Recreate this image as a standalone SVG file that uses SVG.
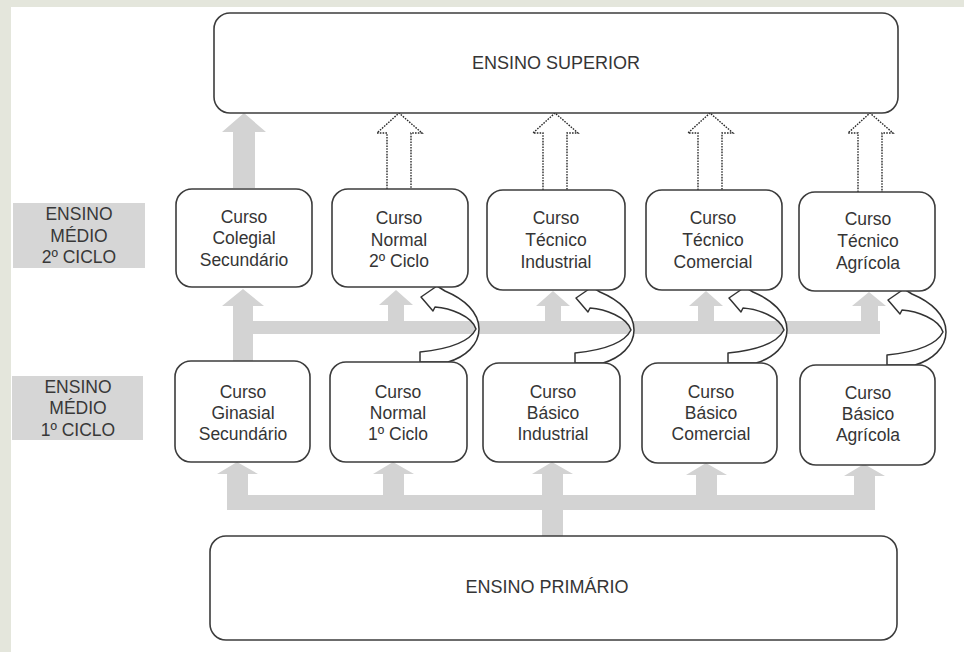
<svg xmlns="http://www.w3.org/2000/svg" xmlns:xlink="http://www.w3.org/1999/xlink" width="964" height="652" viewBox="0 0 964 652">
<style>
.box{fill:#fff;stroke:#3c3c3c;stroke-width:1.6}
.t{font-family:"Liberation Sans",Arial,sans-serif;font-size:17.5px;fill:#353535;text-anchor:middle}
.big{font-size:18px}
.lbl{fill:#d6d6d6}
.lt{font-size:17.5px;fill:#383838}
.g{fill:#d3d3d3}
.dot{fill:#fff;stroke:#2a2a2a;stroke-width:1.4;stroke-dasharray:1.6 1.2}
.curve{fill:#fff;stroke:#333;stroke-width:1.5;stroke-linejoin:round}
</style>
<defs>
<path id="curl" class="curve" d="M 0,0 L 0,-10 C 20,-12 48,-17 56,-33 C 52,-46 30,-54 15,-55 L 13,-51 L 1,-65 L 17,-76 L 25,-71 C 44,-63 59,-50 59,-33 C 59,-17 45,-5 28,0 Z"/>
</defs>
<rect x="0" y="0" width="964" height="652" fill="#e4e6dc"/>
<rect x="11" y="7" width="953" height="645" fill="#ffffff"/>

<g id="connectors">
  <!-- Colegial to Superior -->
  <polygon class="g" points="233,188 233,132 222,132 244,113 266,132 255,132 255,188"/>
  <!-- dotted hollow arrows -->
  <path class="dot" d="M 387,189 L 387,133 L 377,133 L 399,113 L 422,133 L 411,133 L 411,189"/>
  <path class="dot" d="M 543,190 L 543,133 L 533,133 L 555,113 L 578,133 L 567,133 L 567,190"/>
  <path class="dot" d="M 698,190 L 698,133 L 688,133 L 710,113 L 733,133 L 722,133 L 722,190"/>
  <path class="dot" d="M 858,192 L 858,133 L 848,133 L 870,113 L 893,133 L 882,133 L 882,192"/>
  <!-- middle gray structure -->
  <polygon class="g" points="233,361 233,306 222,306 243,289 264,306 253,306 253,361"/>
  <rect class="g" x="233" y="321" width="647" height="13"/>
  <polygon class="g" points="388,321 388,305 379,305 396,290 413,305 404,305 404,321"/>
  <polygon class="g" points="545,321 545,306 536,306 553,291 570,306 561,306 561,321"/>
  <polygon class="g" points="698,321 698,306 689,306 706,291 723,306 714,306 714,321"/>
  <polygon class="g" points="861,321 861,306 852,306 869,292 886,306 878,306 878,321"/>
  <!-- bottom gray structure -->
  <rect class="g" x="227" y="495" width="648" height="15"/>
  <polygon class="g" points="227,495 227,474 217,474 237,462 258,474 248,474 248,495"/>
  <polygon class="g" points="383,495 383,474 373,474 393,462 414,474 404,474 404,495"/>
  <polygon class="g" points="542,537 542,474 532,474 552,462 573,474 563,474 563,537"/>
  <polygon class="g" points="696,495 696,475 686,475 706,463 727,475 717,475 717,495"/>
  <polygon class="g" points="854,495 854,476 844,476 864,464 885,476 875,476 875,495"/>
  <!-- curved arrows -->
  <use xlink:href="#curl" transform="translate(420,362)"/>
  <use xlink:href="#curl" transform="translate(575,363)"/>
  <use xlink:href="#curl" transform="translate(728,363)"/>
  <use xlink:href="#curl" transform="translate(887,365)"/>
</g>

<g id="superior">
  <rect class="box" x="214" y="13" width="684" height="100" rx="16"/>
  <text class="t big" x="556" y="69">ENSINO SUPERIOR</text>
</g>

<g id="label-2ciclo">
  <rect class="lbl" x="13" y="203" width="132" height="65"/>
  <text class="t lt" x="79" y="220">ENSINO</text>
  <text class="t lt" x="79" y="242">MÉDIO</text>
  <text class="t lt" x="79" y="263">2º CICLO</text>
</g>
<g id="label-1ciclo">
  <rect class="lbl" x="12" y="376" width="131" height="64"/>
  <text class="t lt" x="78" y="393">ENSINO</text>
  <text class="t lt" x="78" y="414">MÉDIO</text>
  <text class="t lt" x="78" y="436">1º CICLO</text>
</g>

<g id="colegial">
  <rect class="box" x="176" y="189" width="136" height="98" rx="16"/>
  <text class="t" x="244" y="223">Curso</text>
  <text class="t" x="244" y="244">Colegial</text>
  <text class="t" x="244" y="266">Secundário</text>
</g>
<g id="normal2">
  <rect class="box" x="332" y="189" width="136" height="98" rx="16"/>
  <text class="t" x="399" y="224">Curso</text>
  <text class="t" x="399" y="246">Normal</text>
  <text class="t" x="399" y="267">2º Ciclo</text>
</g>
<g id="tecnico-industrial">
  <rect class="box" x="487" y="190" width="138" height="100" rx="16"/>
  <text class="t" x="556" y="224">Curso</text>
  <text class="t" x="556" y="246">Técnico</text>
  <text class="t" x="556" y="268">Industrial</text>
</g>
<g id="tecnico-comercial">
  <rect class="box" x="646" y="190" width="136" height="100" rx="16"/>
  <text class="t" x="713" y="224">Curso</text>
  <text class="t" x="713" y="246">Técnico</text>
  <text class="t" x="713" y="268">Comercial</text>
</g>
<g id="tecnico-agricola">
  <rect class="box" x="799" y="192" width="136" height="99" rx="16"/>
  <text class="t" x="868" y="225">Curso</text>
  <text class="t" x="868" y="247">Técnico</text>
  <text class="t" x="868" y="269">Agrícola</text>
</g>

<g id="ginasial">
  <rect class="box" x="175" y="361" width="135" height="101" rx="16"/>
  <text class="t" x="243" y="398">Curso</text>
  <text class="t" x="243" y="419">Ginasial</text>
  <text class="t" x="243" y="440">Secundário</text>
</g>
<g id="normal1">
  <rect class="box" x="330" y="362" width="137" height="100" rx="16"/>
  <text class="t" x="398" y="398">Curso</text>
  <text class="t" x="398" y="419">Normal</text>
  <text class="t" x="398" y="440">1º Ciclo</text>
</g>
<g id="basico-industrial">
  <rect class="box" x="483" y="363" width="137" height="99" rx="16"/>
  <text class="t" x="553" y="398">Curso</text>
  <text class="t" x="553" y="419">Básico</text>
  <text class="t" x="553" y="440">Industrial</text>
</g>
<g id="basico-comercial">
  <rect class="box" x="642" y="363" width="135" height="100" rx="16"/>
  <text class="t" x="711" y="398">Curso</text>
  <text class="t" x="711" y="419">Básico</text>
  <text class="t" x="711" y="440">Comercial</text>
</g>
<g id="basico-agricola">
  <rect class="box" x="800" y="365" width="135" height="100" rx="16"/>
  <text class="t" x="868" y="399">Curso</text>
  <text class="t" x="868" y="420">Básico</text>
  <text class="t" x="868" y="441">Agrícola</text>
</g>

<g id="primario">
  <rect class="box" x="210" y="536" width="687" height="104" rx="16"/>
  <text class="t big" x="547" y="593">ENSINO PRIMÁRIO</text>
</g>
</svg>
